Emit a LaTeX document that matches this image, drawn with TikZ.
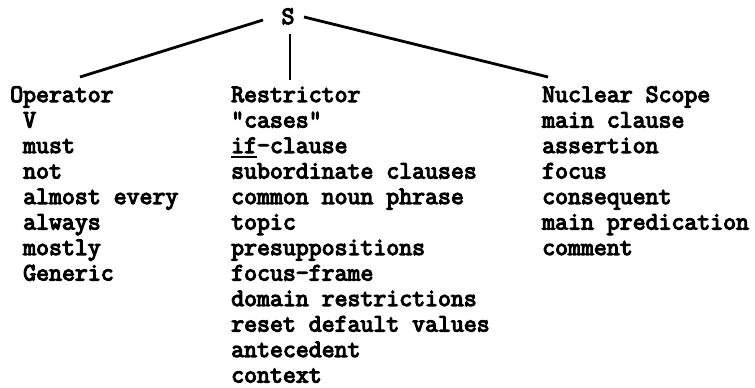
\documentclass[tikz,border=0pt]{standalone}
\usepackage{fontspec}
\usetikzlibrary{positioning}

\newfontfamily\labfont{Latin Modern Mono}[FakeBold=4.5]
\newcommand{\ulword}[1]{\setbox0\hbox{#1}\rlap{\rule[-5pt]{\wd0}{2pt}}\box0}

\tikzstyle{word}=[font=\labfont\fontsize{25.1}{25.5}\selectfont, inner sep=0pt, anchor=base west]
\tikzstyle{branch}=[line width=2.8pt]

\begin{document}
\begin{tikzpicture}[x=1pt,y=1pt]

\useasboundingbox (0,0) rectangle (755,388);

\node[word,anchor=base] (S) at (288,364) {S};

\node[word] (op) at (10,286) {Operator};
\node[word] (re) at (231,286) {Restrictor};
\node[word] (ns) at (542,286) {Nuclear Scope};

\def \step {25.5} % baseline distance

\foreach \w [count=\i] in {V,must,not,almost every,always,mostly,Generic}{
  \node[word] (op\i) at (23,286 - \step*\i) {\w};
}
\foreach \w [count=\i] in {"cases",\ulword{if}-clause,subordinate clauses,common noun phrase,topic,presuppositions,focus-frame,domain restrictions,reset default values,antecedent,context}{
  \node[word] (re\i) at (231,286 - \step*\i) {\w};
}
\foreach \w [count=\i] in {main clause,assertion,focus,consequent,main predication,comment}{
  \node[word] (ns\i) at (542,286 - \step*\i) {\w};
}

\draw[branch] ([xshift=-25pt,yshift=4pt]S.base) -- ([xshift=70pt,yshift=25pt]op.base west);
\draw[branch] ([xshift=2pt,yshift=-10pt]S.base) -- ([xshift=59pt,yshift=22pt]re.base west);
\draw[branch] ([xshift=16pt,yshift=7pt]S.base) -- ([xshift=6pt,yshift=25pt]ns.base west);

\end{tikzpicture}
\end{document}
